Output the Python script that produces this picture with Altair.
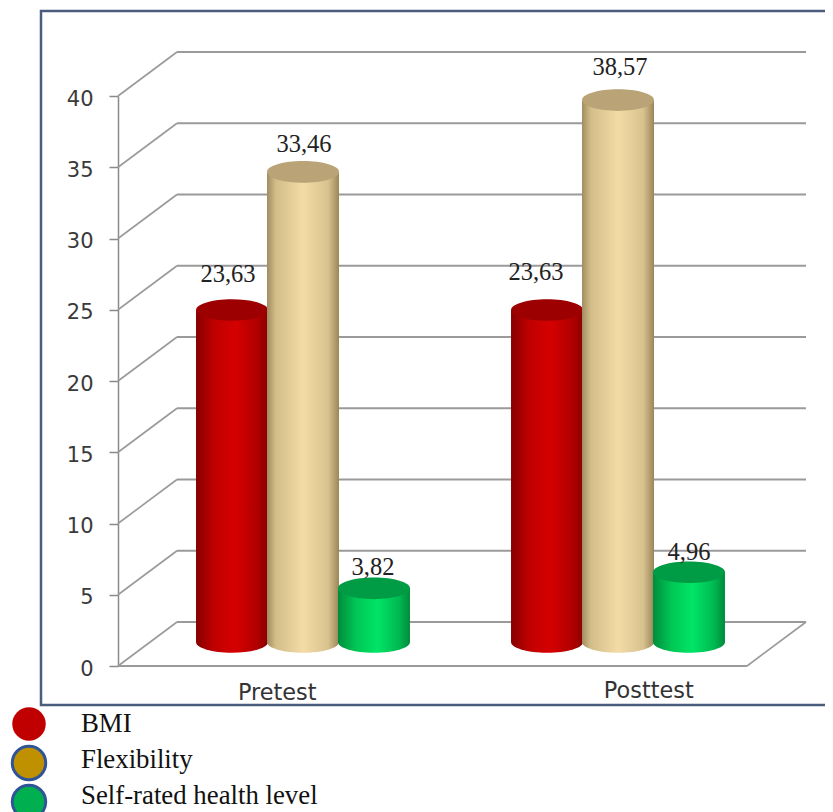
import altair as alt
import pandas as pd

groups = ["Pretest", "Posttest"]
series = ["BMI", "Flexibility", "Self-rated health level"]
bmi = [23.63, 23.63]
flexibility = [33.46, 38.57]
health = [3.82, 4.96]
labels = {"BMI": ["23,63", "23,63"], "Flexibility": ["33,46", "38,57"],
          "Self-rated health level": ["3,82", "4,96"]}
ticks = [0, 5, 10, 15, 20, 25, 30, 35, 40]
legend_fill = ["#c00000", "#bf9000", "#00b050"]
legend_stroke = ["transparent", "#2f5597", "#2f5597"]

GRID = "#9a9a9a"
DEPTH = 44 / 14.25  # wall depth in axis units
values = {"BMI": bmi, "Flexibility": flexibility, "Self-rated health level": health}

def grad(stops):
    return {"gradient": "linear", "x1": 0, "x2": 1, "y1": 0, "y2": 0,
            "stops": [{"offset": o, "color": c} for o, c in stops]}

side = {
    "BMI": grad([(0, "#860000"), (0.25, "#bf0000"), (0.55, "#d60000"), (0.85, "#b00000"), (1, "#8c0000")]),
    "Flexibility": grad([(0, "#a08c60"), (0.12, "#d2bc88"), (0.5, "#f3dca6"), (0.85, "#d8c28e"), (1, "#9a8659")]),
    "Self-rated health level": grad([(0, "#008c3c"), (0.25, "#00c655"), (0.55, "#00e567"), (0.85, "#00b850"), (1, "#008a3c")]),
}
cap = {"BMI": "#9c0000", "Flexibility": "#b9a377", "Self-rated health level": "#009c45"}
label_nudge = {("Pretest", "BMI"): (-4, -28), ("Posttest", "BMI"): (-11, -30),
               ("Pretest", "Flexibility"): (1, -20), ("Posttest", "Flexibility"): (2, -25),
               ("Pretest", "Self-rated health level"): (-1, -13), ("Posttest", "Self-rated health level"): (0, -12)}

ELLIPSE = "M-1,0A1,0.3,0,1,1,1,0A1,0.3,0,1,1,-1,0Z"
BAR_W = 72

# ---- frame, walls, axis
y_main = alt.Scale(domain=[0, 40], range=[658, 88])
y_axis = alt.Axis(
    values=ticks, title=None, grid=False, orient="left", offset=-110,
    domainColor="#8a8a8a", domainWidth=1.5, tickColor="#8a8a8a", tickWidth=1.5, tickSize=9,
    labelFont="DejaVu Sans", labelFontSize=21, labelColor="#3a3a3a", labelPadding=16, labelOffset=3)
grid_df = pd.DataFrame({"v": ticks, "back": [t + DEPTH for t in ticks]})

frame = alt.Chart(pd.DataFrame({"a": [0]})).mark_rect(
    filled=False, stroke="#4a5d7c", strokeWidth=2.5
).encode(x=alt.value(33), x2=alt.value(840), y=alt.value(3), y2=alt.value(697))

back_lines = alt.Chart(grid_df).mark_rule(color=GRID, strokeWidth=2).encode(
    x=alt.value(169), x2=alt.value(798),
    y=alt.Y("back:Q", scale=y_main, axis=y_axis))
diagonals = alt.Chart(grid_df).mark_rule(color=GRID, strokeWidth=1.6).encode(
    x=alt.value(110), x2=alt.value(169),
    y=alt.Y("v:Q", scale=y_main, axis=y_axis), y2="back:Q")
floor_front = alt.Chart(pd.DataFrame({"v": [0]})).mark_rule(color=GRID, strokeWidth=2).encode(
    x=alt.value(110), x2=alt.value(739),
    y=alt.Y("v:Q", scale=y_main, axis=y_axis))
floor_side = alt.Chart(pd.DataFrame({"v": [0], "back": [DEPTH]})).mark_rule(color=GRID, strokeWidth=1.6).encode(
    x=alt.value(739), x2=alt.value(798),
    y=alt.Y("v:Q", scale=y_main, axis=y_axis), y2="back:Q")

walls = alt.layer(back_lines, diagonals, floor_front, floor_side)

# ---- cylinders
x_scale = alt.Scale(domain=groups, range=[137.5, 767.5], paddingInner=0.324, paddingOuter=0.162)
y_cyl = alt.Scale(domain=[0, 40], range=[634, 72])
off_scale = alt.Scale(domain=series)

cyl_layers = []
for s in series:
    df = pd.DataFrame({"group": groups, "series": s, "value": values[s], "base": 0, "label": labels[s]})
    base = alt.Chart(df).encode(
        x=alt.X("group:N", scale=x_scale, axis=None, sort=groups),
        xOffset=alt.XOffset("series:N", scale=off_scale, sort=series))
    bottom = base.mark_point(shape=ELLIPSE, size=BAR_W ** 2, filled=True, opacity=1, fill=side[s], stroke=None).encode(
        y=alt.Y("base:Q", scale=y_cyl, axis=None))
    body = base.mark_bar(fill=side[s], width=BAR_W).encode(
        y=alt.Y("value:Q", scale=y_cyl, axis=None, stack=None), y2="base:Q")
    top = base.mark_point(shape=ELLIPSE, size=BAR_W ** 2, filled=True, opacity=1, fill=cap[s], stroke=None).encode(
        y=alt.Y("value:Q", scale=y_cyl, axis=None, stack=None))
    cyl_layers += [bottom, body, top]

text_layers = []
for s in series:
    for i, g in enumerate(groups):
        df = pd.DataFrame({"group": [g], "series": [s], "value": [values[s][i]], "label": [labels[s][i]]})
        dx, dy = label_nudge[(g, s)]
        text_layers.append(
            alt.Chart(df).mark_text(font="Liberation Serif", fontSize=24.5, color="#222222",
                                    dx=dx, dy=dy, baseline="alphabetic", align="center").encode(
                x=alt.X("group:N", scale=x_scale, axis=None, sort=groups),
                xOffset=alt.XOffset("series:N", scale=off_scale, sort=series),
                y=alt.Y("value:Q", scale=y_cyl, axis=None, stack=None),
                text="label:N"))

cylinders = alt.layer(*cyl_layers, *text_layers)

# ---- category labels
cat_df = pd.DataFrame({"group": groups, "nudge": [2, 59], "base": [692, 690]})
cat_layers = []
for i, g in enumerate(groups):
    cat_layers.append(
        alt.Chart(cat_df[cat_df.group == g]).mark_text(
            font="DejaVu Sans", fontSize=22.4, color="#333333", baseline="alphabetic",
            dx=int(cat_df.nudge[i])).encode(
            x=alt.X("group:N", scale=alt.Scale(domain=groups, range=[110, 739]), axis=None, sort=groups),
            y=alt.value(int(cat_df.base[i])),
            text="group:N"))
cats = alt.layer(*cat_layers)

# ---- legend
leg_df = pd.DataFrame({"series": series})
leg_points = alt.Chart(leg_df).mark_point(filled=True, size=1120, strokeWidth=3, opacity=1, shape="circle").encode(
    x=alt.value(21),
    y=alt.Y("series:N", sort=series, axis=None, scale=alt.Scale(domain=series, range=[716, 794], padding=0)),
    fill=alt.Fill("series:N", sort=series, legend=None, scale=alt.Scale(domain=series, range=legend_fill)),
    stroke=alt.Stroke("series:N", sort=series, legend=None, scale=alt.Scale(domain=series, range=legend_stroke)))
leg_text = alt.Chart(leg_df).mark_text(font="Liberation Serif", fontSize=26.8, color="#111111",
                                       align="left", baseline="alphabetic").encode(
    x=alt.value(73),
    y=alt.Y("series:N", sort=series, axis=None, scale=alt.Scale(domain=series, range=[724, 796], padding=0)),
    text="series:N")

chart = alt.layer(frame, walls, cylinders, cats, leg_points, leg_text).resolve_scale(
    x="independent", y="independent"
).properties(
    width=817, height=804, padding=0, autosize=alt.AutoSizeParams(type="none"),
    background="white"
).configure_view(stroke=None)

chart.save("out.html", embed_options={"renderer": "svg", "actions": False})
